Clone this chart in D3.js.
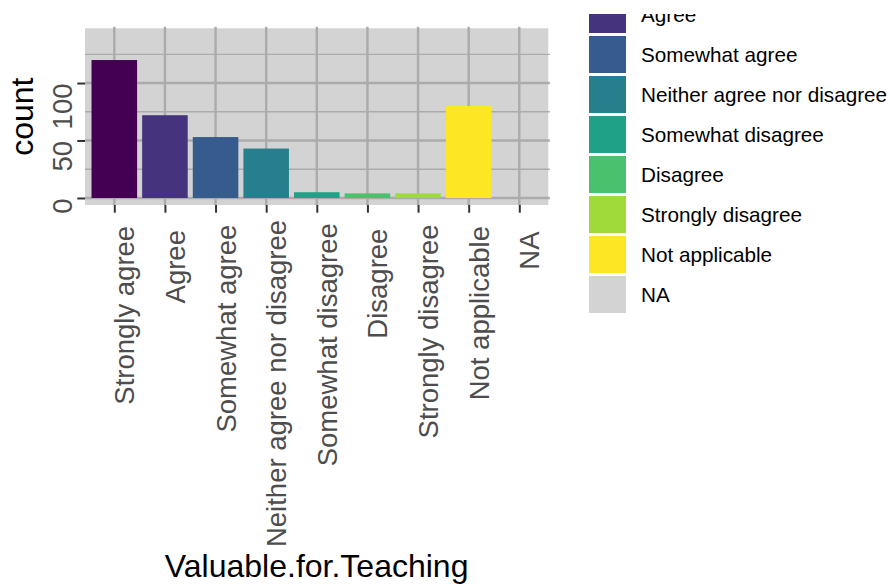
<!DOCTYPE html>
<html>
<head>
<meta charset="utf-8">
<script src="https://cdn.jsdelivr.net/npm/d3@7"></script>
<style>
  html, body { margin: 0; padding: 0; background: #ffffff; }
  svg { display: block; }
  text { font-family: "Liberation Sans", Arial, Helvetica, sans-serif; }
</style>
</head>
<body>
<svg id="chart" width="890" height="586"></svg>
<script>
// ---- data ----
const categories = ["Strongly agree", "Agree", "Somewhat agree", "Neither agree nor disagree",
  "Somewhat disagree", "Disagree", "Strongly disagree", "Not applicable", "NA"];
const counts = [120, 72, 53, 43, 5, 4, 4, 80, 0];
const fillColors = ["#440154", "#46337E", "#365C8D", "#277F8E", "#1FA187",
  "#4AC16D", "#9FDA3A", "#FDE725", "#D3D3D3"];
const yMajorTicks = [0, 50, 100];
const yMinorTicks = [25, 75, 125];
const xTitle = "Valuable.for.Teaching";
const yTitle = "count";

// ---- layout ----
const svg = d3.select("#chart");
const panel = { left: 85, right: 548.3, top: 28.3, bottom: 205 };

const x = d3.scalePoint().domain(categories).range([114.3, 519.3]);
const step = x.step();
const barW = step * 0.9;
const y = d3.scaleLinear().domain([-6.1, 147.6]).range([panel.bottom, panel.top]);

const gridCol = "#ababab";

// panel background
svg.append("rect")
  .attr("x", panel.left).attr("y", panel.top)
  .attr("width", panel.right - panel.left).attr("height", panel.bottom - panel.top)
  .attr("fill", "#d3d3d3");

// minor gridlines
svg.append("g").selectAll("line").data(yMinorTicks).join("line")
  .attr("x1", panel.left).attr("x2", panel.right + 1.5)
  .attr("y1", d => y(d)).attr("y2", d => y(d))
  .attr("stroke", gridCol).attr("stroke-width", 1.3);

// major gridlines
svg.append("g").selectAll("line").data(yMajorTicks).join("line")
  .attr("x1", panel.left).attr("x2", panel.right + 1.5)
  .attr("y1", d => y(d)).attr("y2", d => y(d))
  .attr("stroke", gridCol).attr("stroke-width", 2.4);

svg.append("g").selectAll("line").data(categories).join("line")
  .attr("x1", d => x(d)).attr("x2", d => x(d))
  .attr("y1", panel.top - 1.5).attr("y2", panel.bottom)
  .attr("stroke", gridCol).attr("stroke-width", 2.4);

// bars
svg.append("g").selectAll("rect").data(categories).join("rect")
  .attr("x", d => x(d) - barW / 2)
  .attr("width", barW)
  .attr("y", (d, i) => y(counts[i]))
  .attr("height", (d, i) => Math.max(0, y(0) - y(counts[i])))
  .attr("fill", (d, i) => counts[i] > 0 ? fillColors[i] : "none");

// y axis
const yAxis = d3.axisLeft(y).tickValues(yMajorTicks).tickSize(7.7).tickPadding(0).tickFormat(d3.format("d"));
const gy = svg.append("g").attr("transform", `translate(${panel.left},0)`).call(yAxis);
gy.select(".domain").remove();
gy.selectAll(".tick line").attr("stroke", "#333333").attr("stroke-width", 2);
gy.selectAll(".tick text")
  .attr("x", null).attr("dy", null)
  .attr("transform", "translate(-13,0) rotate(-90)")
  .attr("text-anchor", "end")
  .attr("font-size", 27.5)
  .attr("fill", "#4d4d4d")
  .attr("font-family", "Liberation Sans, Arial, sans-serif");

// x axis
const xAxis = d3.axisBottom(x).tickSize(7.7).tickPadding(0);
const gx = svg.append("g").attr("transform", `translate(0,${panel.bottom})`).call(xAxis);
gx.select(".domain").remove();
gx.selectAll(".tick line").attr("stroke", "#333333").attr("stroke-width", 2);
gx.selectAll(".tick text")
  .attr("y", null).attr("dy", null)
  .attr("text-anchor", "end")
  .attr("font-size", 27.5)
  .attr("fill", "#4d4d4d")
  .attr("font-family", "Liberation Sans, Arial, sans-serif")
  .each(function () {
    const w = this.getComputedTextLength();
    d3.select(this).attr("transform", `translate(19.5,${28 - 0.04 * w}) rotate(-90)`);
  });

// axis titles
svg.append("text")
  .attr("x", (panel.left + panel.right) / 2).attr("y", 577)
  .attr("text-anchor", "middle").attr("font-size", 32).attr("fill", "#000")
  .text(xTitle);
svg.append("text")
  .attr("transform", `translate(33,${(panel.top + panel.bottom) / 2}) rotate(-90)`)
  .attr("text-anchor", "middle").attr("font-size", 32).attr("fill", "#000")
  .text(yTitle);

// legend (top is clipped)
svg.append("defs").append("clipPath").attr("id", "legclip")
  .append("rect").attr("x", 560).attr("y", 14).attr("width", 330).attr("height", 572);
const leg = svg.append("g").attr("clip-path", "url(#legclip)");
const legItems = leg.selectAll("g").data(categories).join("g")
  .attr("transform", (d, i) => `translate(589,${-44 + 40 * i})`);
legItems.append("rect")
  .attr("width", 37).attr("height", 37)
  .attr("fill", (d, i) => fillColors[i]);
legItems.append("text")
  .attr("x", 52).attr("y", 18.5 + 7.5)
  .attr("font-size", 20.7).attr("fill", "#000")
  .text(d => d);
</script>
</body>
</html>
